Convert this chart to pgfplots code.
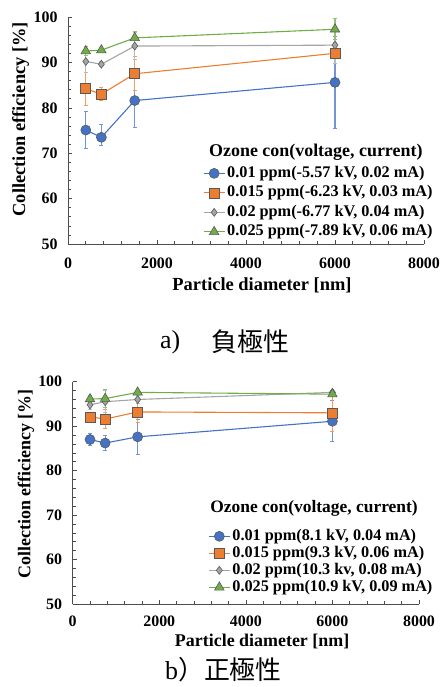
\documentclass[border=0pt]{standalone}
\usepackage{fontspec}
\setmainfont{Liberation Serif}
\newfontfamily\cjk{Noto Sans CJK JP}
\usepackage{pgfplots}
\pgfplotsset{compat=1.18}

\definecolor{cblue}{HTML}{4472C4}
\definecolor{corange}{HTML}{ED7D31}
\definecolor{cgray}{HTML}{A5A5A5}
\definecolor{cgreen}{HTML}{70AD47}

\pgfplotsset{
  effchart/.style={
    scale only axis,
    xmin=0, xmax=8000, ymin=50, ymax=100,
    axis lines*=left,
    axis line style={black!70, line width=0.8bp},
    xtick={0,2000,...,8000}, ytick={50,60,...,100},
    minor x tick num=4, minor y tick num=4,
    tick align=inside,
    major tick length=4bp, minor tick length=3bp,
    tick style={black!70, line width=0.6bp},
    scaled ticks=false,
    /pgf/number format/1000 sep={},
    /pgf/number format/assume math mode=true,
    tick label style={font=\bfseries\fontsize{16}{16}\selectfont},
    yticklabel style={xshift=-7bp},
    legend cell align=left,
    legend image code/.code={
      \draw[mark repeat=2, mark phase=2] plot coordinates {(0bp,0bp) (10.5bp,0bp) (21bp,0bp)};},
  },
  ser/.style n args={3}{#1, line width=1.1bp, mark=#2, mark size=#3,
    mark options={solid, fill=#1, draw=black!65, line width=0.6bp},
    error bars/y dir=both, error bars/y explicit,
    error bars/error bar style={#1!75, line width=1.2bp},
    error bars/error mark options={rotate=90, mark size=2bp, line width=1bp, #1!75}},
}

\begin{document}
\begin{tikzpicture}
\useasboundingbox (0bp,0bp) rectangle (441bp,-687bp);

% a) negative polarity
\begin{axis}[effchart,
  at={(68bp,-244bp)}, anchor=south west,
  width=356bp, height=227bp,
  xticklabel style={yshift=-10bp},
  xlabel={Particle diameter [nm]},
  ylabel={Collection efficiency [\%]},
  label style={font=\bfseries\fontsize{18.5}{18.5}\selectfont},
  xlabel style={at={(axis description cs:0.545,-0.18)}, anchor=center},
  ylabel style={at={(axis description cs:-0.133,0.55)}, anchor=center},
  legend style={draw=none, fill=none, at={(rel axis cs:0.379,0.344)}, anchor=north west,
    inner sep=0pt, row sep=5bp, font=\bfseries\fontsize{16.3}{16.3}\selectfont,
    nodes={inner sep=0pt, text height=11bp, text depth=3.5bp},
    /tikz/every odd column/.append style={column sep=2bp}},
]
\addplot[ser={cblue}{*}{5bp}] coordinates {
  (400,75.1) +- (0,4.0)
  (750,73.5) += (0,2.9) -= (0,1.7)
  (1500,81.6) +- (0,5.9)
  (6000,85.6) +- (0,10.1)
};
\addlegendentry{0.01 ppm(-5.57 kV, 0.02 mA)}
\addplot[ser={corange}{square*}{5bp}] coordinates {
  (400,84.2) +- (0,3.6)
  (750,83.0) +- (0,1.5)
  (1500,87.5) +- (0,3.7)
  (6000,92.0) +- (0,2.3)
};
\addlegendentry{0.015 ppm(-6.23 kV, 0.03 mA)}
\addplot[ser={cgray}{diamond*}{4bp}] coordinates {
  (400,90.2) +- (0,2.4)
  (750,89.6) +- (0,0.6)
  (1500,93.6) +- (0,3.0)
  (6000,93.8) +- (0,4.0)
};
\addlegendentry{0.02 ppm(-6.77 kV, 0.04 mA)}
\addplot[ser={cgreen}{triangle*}{5.5bp}] coordinates {
  (400,92.5) +- (0,1.0)
  (750,92.7) +- (0,0.5)
  (1500,95.4) +- (0,1.5)
  (6000,97.3) +- (0,2.3)
};
\addlegendentry{0.025 ppm(-7.89 kV, 0.06 mA)}
\node[anchor=west, inner sep=0pt, font=\bfseries\fontsize{18}{18}\selectfont]
  at (rel axis cs:0.396,0.405) {Ozone con(voltage, current)};
\end{axis}

\node[anchor=west, inner sep=0pt, font=\fontsize{26}{26}\selectfont] at (160bp,-342bp) {a)};
\node[anchor=west, inner sep=0pt, font=\cjk\fontsize{26}{26}\selectfont] at (211bp,-342bp) {負極性};

% b) positive polarity
\begin{axis}[effchart,
  at={(72.7bp,-604bp)}, anchor=south west,
  width=346.3bp, height=222.3bp,
  xticklabel style={yshift=-8bp},
  xlabel={Particle diameter [nm]},
  ylabel={Collection efficiency [\%]},
  label style={font=\bfseries\fontsize{18}{18}\selectfont},
  xlabel style={at={(axis description cs:0.547,-0.167)}, anchor=center},
  ylabel style={at={(axis description cs:-0.135,0.54)}, anchor=center},
  legend style={draw=none, fill=none, at={(rel axis cs:0.391,0.338)}, anchor=north west,
    inner sep=0pt, row sep=2.5bp, font=\bfseries\fontsize{16.3}{16.3}\selectfont,
    nodes={inner sep=0pt, text height=11bp, text depth=3.5bp},
    /tikz/every odd column/.append style={column sep=2bp}},
]
\addplot[ser={cblue}{*}{5bp}] coordinates {
  (400,87.0) +- (0,1.4)
  (750,86.2) +- (0,1.7)
  (1500,87.6) +- (0,3.9)
  (6000,91.1) +- (0,4.6)
};
\addlegendentry{0.01 ppm(8.1 kV, 0.04 mA)}
\addplot[ser={corange}{square*}{5bp}] coordinates {
  (400,92.1) +- (0,1.0)
  (750,91.6) +- (0,2.2)
  (1500,93.2) +- (0,2.4)
  (6000,93.0) +- (0,4.1)
};
\addlegendentry{0.015 ppm(9.3 kV, 0.06 mA)}
\addplot[ser={cgray}{diamond*}{4bp}] coordinates {
  (400,94.8) +- (0,1.0)
  (750,95.5) +- (0,2.5)
  (1500,96.0) +- (0,1.0)
  (6000,97.6) +- (0,0.5)
};
\addlegendentry{0.02 ppm(10.3 kv, 0.08 mA)}
\addplot[ser={cgreen}{triangle*}{5.5bp}] coordinates {
  (400,96.1) +- (0,0.8)
  (750,96.2) +- (0,2.0)
  (1500,97.6) +- (0,0.5)
  (6000,97.2) +- (0,0.5)
};
\addlegendentry{0.025 ppm(10.9 kV, 0.09 mA)}
\node[anchor=west, inner sep=0pt, font=\bfseries\fontsize{17.5}{17.5}\selectfont]
  at (rel axis cs:0.397,0.428) {Ozone con(voltage, current)};
\end{axis}

\node[anchor=west, inner sep=0pt, font=\fontsize{26}{26}\selectfont] at (165bp,-670bp) {b\cjk）正極性};
\end{tikzpicture}
\end{document}
